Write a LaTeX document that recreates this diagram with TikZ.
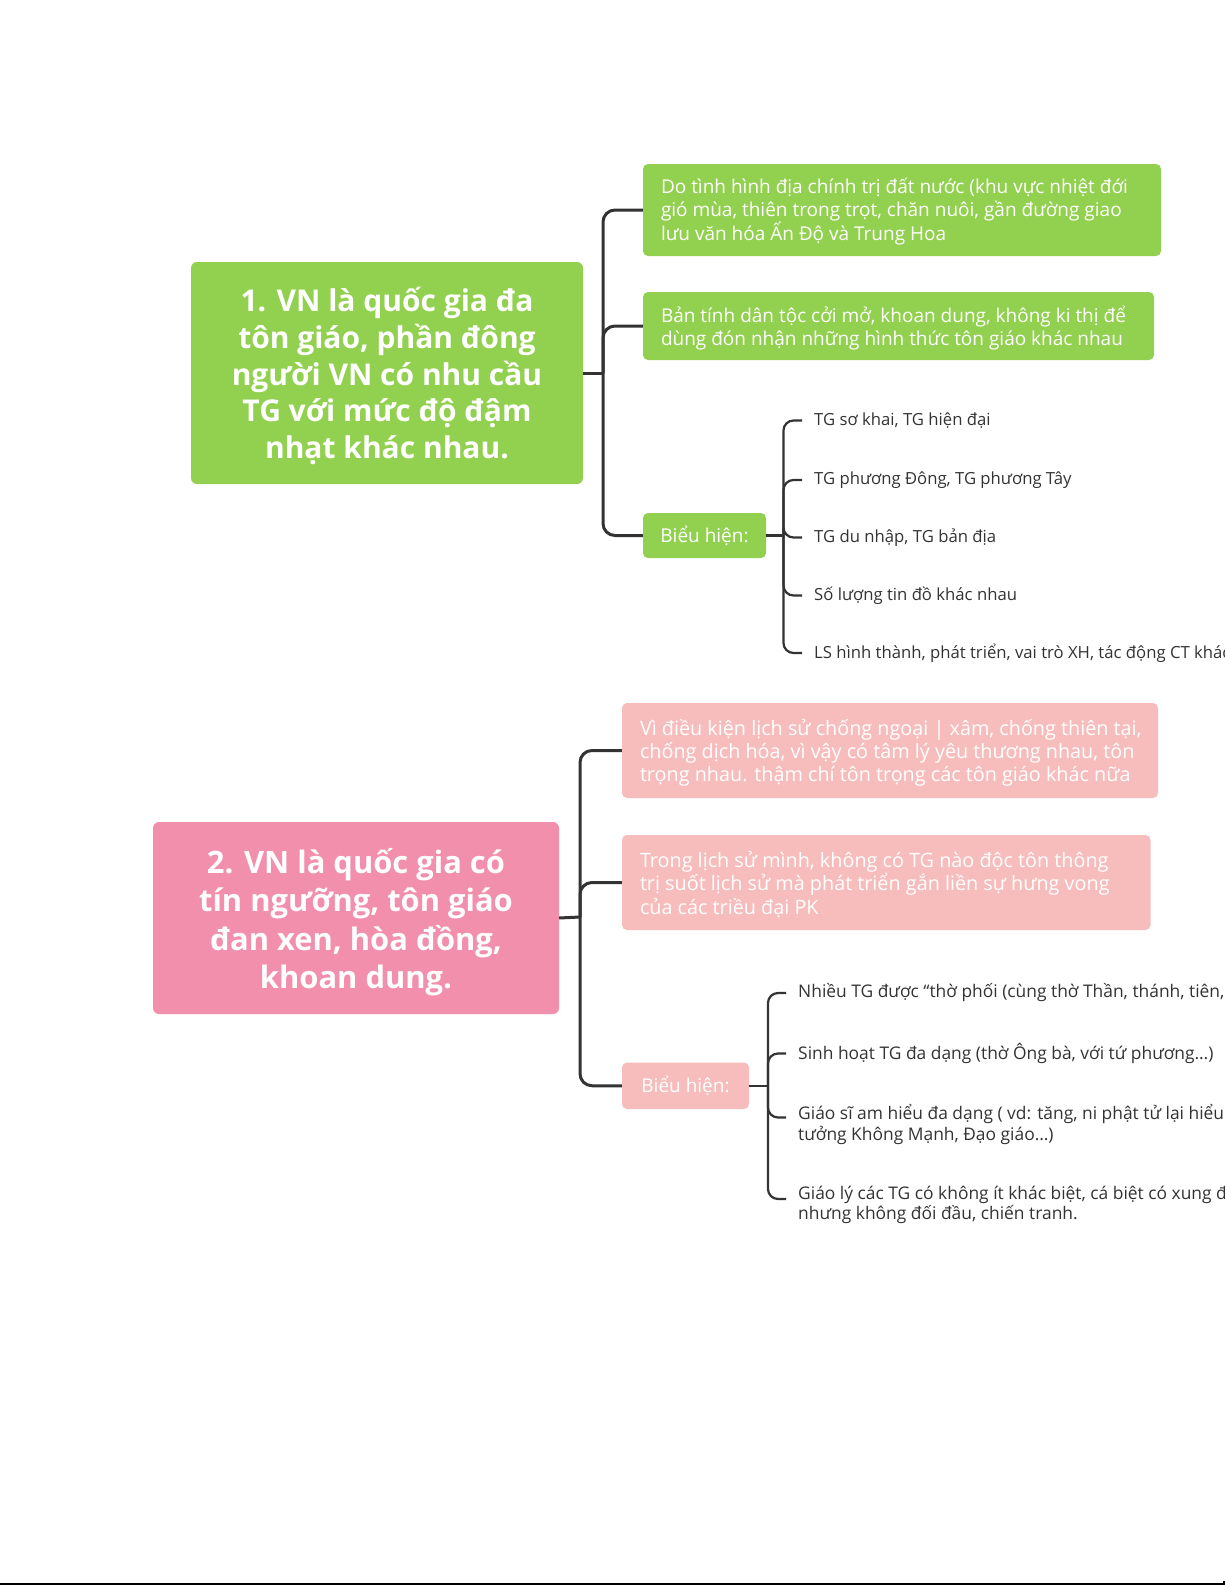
\documentclass[tikz,border=0pt]{standalone}
\usepackage{fontspec}
\setmainfont{Open Sans}
\definecolor{gmain}{RGB}{146,208,80}
\definecolor{pmain}{RGB}{242,143,173}
\definecolor{plight}{RGB}{247,189,189}
\definecolor{lineg}{RGB}{51,51,51}
\definecolor{itemtxt}{RGB}{51,51,51}
\tikzset{
  mainbox/.style={rounded corners=6pt, inner sep=0pt},
  maintext/.style={text=white, align=center, inner sep=0pt,
    font=\bfseries\fontsize{30}{36.7}\selectfont},
  childbox/.style={rounded corners=5pt, inner sep=0pt},
  childtext/.style={anchor=west, text=white, align=left, inner sep=0pt,
    font=\fontsize{19}{22.8}\selectfont},
  childtextb/.style={childtext, font=\fontsize{19.8}{23.2}\selectfont},
  tagbox/.style={rounded corners=5pt, text=white, align=center, inner sep=0pt,
    font=\fontsize{19}{22}\selectfont},
  item/.style={anchor=west, inner xsep=12pt, inner ysep=0pt, align=left, text=itemtxt,
    font=\fontsize{16.7}{20.5}\selectfont},
  itemb/.style={item, font=\fontsize{17.4}{20.5}\selectfont},
  trunk/.style={draw=lineg, line width=3pt, rounded corners=12pt},
  subtrunk/.style={draw=lineg, line width=2.2pt, rounded corners=10pt},
}
\begin{document}
\begin{tikzpicture}[x=1pt,y=-1pt]
\useasboundingbox (0,0) rectangle (1225,1585);
\fill[white] (0,0) rectangle (1225,1585);
\begin{scope}
\clip (0,0) rectangle (1225,1585);
% ---------- Section 1 ----------
\node[mainbox, fill=gmain, minimum width=392pt, minimum height=222pt] (m1) at (387,373) {};
\node[maintext] (m1t) at ([yshift=-3pt]m1.center)
  {1. VN là quốc gia đa\\ tôn giáo, phần đông\\ người VN có nhu cầu\\ TG với mức độ đậm\\ nhạt khác nhau.};
\node[childbox, fill=gmain, minimum width=518pt, minimum height=92pt] (c1) at (902,210) {};
\node[childtext] (c1t) at ([xshift=18pt,yshift=-2pt]c1.west)
  {Do tình hình địa chính trị đất nước (khu vực nhiệt đới\\ gió mùa, thiên trong trọt, chăn nuôi, gần đường giao\\ lưu văn hóa Ấn Độ và Trung Hoa};
\node[childbox, fill=gmain, minimum width=511pt, minimum height=68pt] (c2) at (898.5,326) {};
\node[childtext] (c2t) at ([xshift=18pt,yshift=-2pt]c2.west)
  {Bản tính dân tộc cởi mở, khoan dung, không ki thị để\\ dùng đón nhận những hình thức tôn giáo khác nhau};
\node[tagbox, fill=gmain, minimum width=123pt, minimum height=45pt] (b1) at (704.5,535.5) {Biểu hiện:};
\node[item] (i11) at (802,420.5) {TG sơ khai, TG hiện đại};
\node[item] (i12) at (802,480) {TG phương Đông, TG phương Tây};
\node[item] (i13) at (802,537.5) {TG du nhập, TG bản địa};
\node[item] (i14) at (802,595.5) {Số lượng tin đồ khác nhau};
\node[item] (i15) at (802,653) {LS hình thành, phát triển, vai trò XH, tác động CT khác nhau};

\coordinate (j1) at (603,373);
\draw[trunk] (m1.east) -- (j1);
\draw[trunk] (j1) |- (c1.west);
\draw[trunk] (j1) |- (c2.west);
\draw[trunk] (j1) |- (b1.west);
\coordinate (k1) at (783.5,535.5);
\draw[subtrunk] (b1.east) -- (k1);
\foreach \n in {i11,i12,i13,i14,i15} \draw[subtrunk] (k1) |- (\n.west);

% ---------- Section 2 ----------
\node[mainbox, fill=pmain, minimum width=406pt, minimum height=192pt] (m2) at (356,918) {};
\node[maintext, font=\bfseries\fontsize{30.9}{38.4}\selectfont] (m2t) at ([yshift=-4pt]m2.center)
  {2. VN là quốc gia có\\ tín ngưỡng, tôn giáo\\ đan xen, hòa đồng,\\ khoan dung.};
\node[childbox, fill=plight, minimum width=536pt, minimum height=95pt] (c3) at (890,750.5) {};
\node[childtextb] (c3t) at ([xshift=18pt,yshift=-2pt]c3.west)
  {Vì điều kiện lịch sử chống ngoại | xâm, chống thiên tại,\\ chống dịch hóa, vì vậy có tâm lý yêu thương nhau, tôn\\ trọng nhau. thậm chí tôn trọng các tôn giáo khác nữa};
\node[childbox, fill=plight, minimum width=528.5pt, minimum height=95pt] (c4) at (886.25,882.5) {};
\node[childtextb] (c4t) at ([xshift=18pt,yshift=-2pt]c4.west)
  {Trong lịch sử mình, không có TG nào độc tôn thông\\ trị suốt lịch sử mà phát triển gắn liền sự hưng vong\\ của các triều đại PK};
\node[tagbox, fill=plight, minimum width=127pt, minimum height=46.5pt] (b2) at (685.5,1085.75) {Biểu hiện:};
\node[itemb] (i21) at (786,993) {Nhiều TG được “thờ phối (cùng thờ Thần, thánh, tiên, Phật};
\node[itemb] (i22) at (786,1053.5) {Sinh hoạt TG đa dạng (thờ Ông bà, với tứ phương…)};
\node[itemb] (i23) at (786,1124.5) {Giáo sĩ am hiểu đa dạng ( vd: tăng, ni phật tử lại hiểu tư\\ tưởng Không Mạnh, Đạo giáo…)};
\node[itemb] (i24) at (786,1205) {Giáo lý các TG có không ít khác biệt, cá biệt có xung đột\\ nhưng không đối đầu, chiến tranh.};

\coordinate (j2) at (580,917);
\draw[trunk] (m2.east) -- (j2);
\draw[trunk] (j2) |- (c3.west);
\draw[trunk] (j2) |- (c4.west);
\draw[trunk] (j2) |- (b2.west);
\coordinate (k2) at (768,1085.75);
\draw[subtrunk] (b2.east) -- (k2);
\draw[subtrunk] (k2) |- (i21.west);
\draw[subtrunk] (k2) |- (i22.west);
\draw[subtrunk] (k2) |- ([yshift=7pt]i23.west);
\draw[subtrunk] (k2) |- ([yshift=6pt]i24.west);

% bottom border
\coordinate (bl) at (0,1584);
\coordinate (br) at (1224,1584);
\coordinate (bt) at (1224,1581);
\draw[black, line width=2.4pt] (bl) -- (br) -- (bt);
\end{scope}
\end{tikzpicture}
\end{document}
